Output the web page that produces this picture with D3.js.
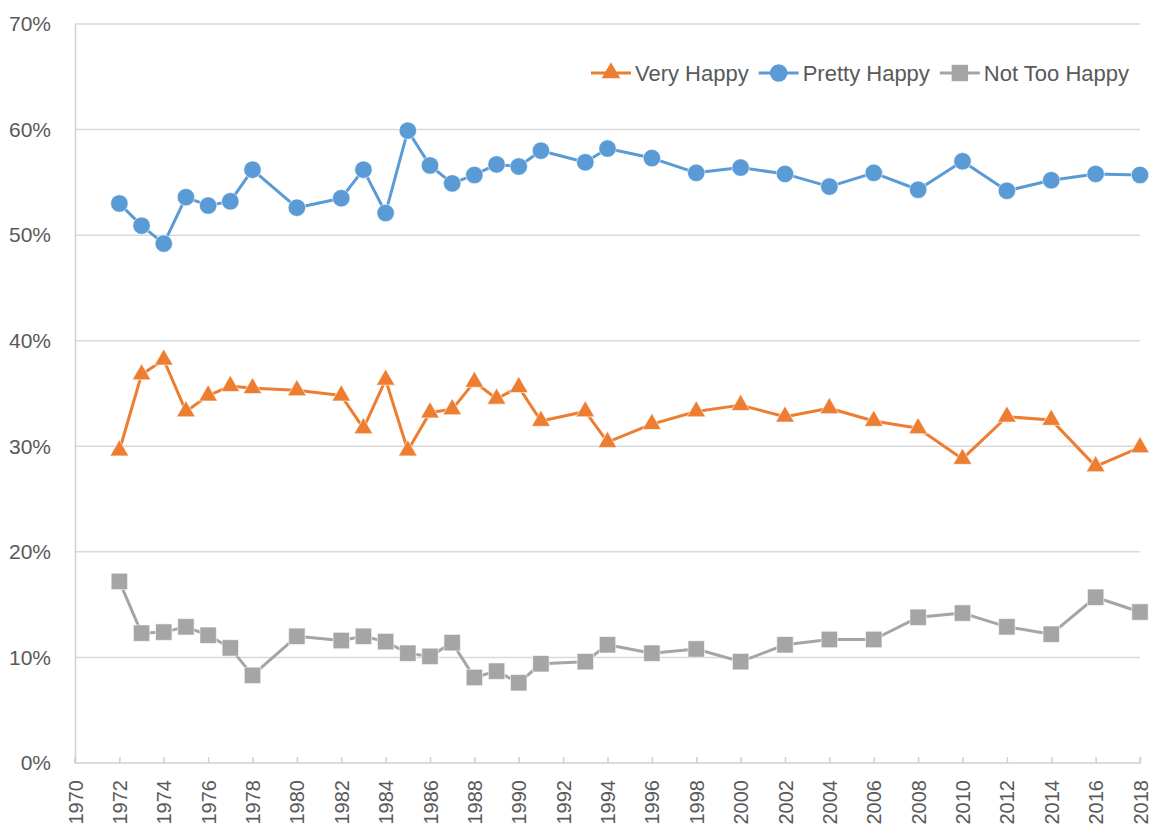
<!DOCTYPE html>
<html><head><meta charset="utf-8">
<script src="https://cdn.jsdelivr.net/npm/d3@7"></script>
<style>
body{margin:0;background:#fff;}
text{font-family:"Liberation Sans",Arial,sans-serif;fill:#595959;}
</style></head>
<body>
<svg id="chart" width="1157" height="826"></svg>
<script>
const years = [1972,1973,1974,1975,1976,1977,1978,1980,1982,1983,1984,1985,1986,1987,1988,1989,1990,1991,1993,1994,1996,1998,2000,2002,2004,2006,2008,2010,2012,2014,2016,2018];
const veryHappy = [29.6,36.8,38.2,33.3,34.8,35.7,35.5,35.3,34.8,31.7,36.3,29.6,33.2,33.5,36.1,34.5,35.6,32.4,33.3,30.4,32.1,33.3,33.9,32.8,33.6,32.4,31.7,28.8,32.8,32.5,28.1,29.9];
const prettyHappy = [53.0,50.9,49.2,53.6,52.8,53.2,56.2,52.6,53.5,56.2,52.1,59.9,56.6,54.9,55.7,56.7,56.5,58.0,56.9,58.2,57.3,55.9,56.4,55.8,54.6,55.9,54.3,57.0,54.2,55.2,55.8,55.7];
const notTooHappy = [17.2,12.3,12.4,12.9,12.1,10.9,8.3,12.0,11.6,12.0,11.5,10.4,10.1,11.4,8.1,8.7,7.6,9.4,9.6,11.2,10.4,10.8,9.6,11.2,11.7,11.7,13.8,14.2,12.9,12.2,15.7,14.3];
const seriesNames = ["Very Happy","Pretty Happy","Not Too Happy"];
const seriesColors = ["#ED7D31","#5B9BD5","#A5A5A5"];
const seriesSymbols = ["triangle","circle","square"];
const xTicks = d3.range(1970, 2019, 2);
const yTicks = [0,10,20,30,40,50,60,70];

const svg = d3.select("#chart");
const L = 75, R = 1140, T = 24, B = 763;
const x = d3.scaleLinear().domain([1970, 2018]).range([L, R]);
const y = d3.scaleLinear().domain([0, 70]).range([B, T]);

// gridlines
svg.append("g").selectAll("line").data(yTicks.filter(d=>d>0)).join("line")
  .attr("x1", L).attr("x2", R).attr("y1", d=>y(d)).attr("y2", d=>y(d))
  .attr("stroke", "#d9d9d9").attr("stroke-width", 1.5);

// y axis
const yAxis = svg.append("g").attr("transform", `translate(${L},0)`)
  .call(d3.axisLeft(y).tickValues(yTicks).tickSize(0).tickPadding(24).tickFormat(d=>d+"%"));
yAxis.select(".domain").attr("stroke","#d0d0d0").attr("stroke-width",1.5);
yAxis.selectAll("text").attr("font-size", 21).style("fill","#595959");

// x axis
const xAxis = svg.append("g").attr("transform", `translate(0,${B})`)
  .call(d3.axisTop(x).tickValues(xTicks).tickSize(6).tickFormat(d3.format("d")));
xAxis.select(".domain").attr("stroke","#d0d0d0").attr("stroke-width",1.5).attr("d", `M${L},-6V0H${R}V-6`);
xAxis.selectAll(".tick line").attr("stroke","#d0d0d0").attr("stroke-width",1.5);
xAxis.selectAll("text").attr("font-size", 20).style("fill","#595959")
  .attr("text-anchor","end").attr("transform","translate(0,17) rotate(-90)")
  .attr("x", 0).attr("y", 0).attr("dy","0.35em");

const data = [veryHappy, prettyHappy, notTooHappy];
const symType = {triangle: d3.symbolTriangle, circle: d3.symbolCircle, square: d3.symbolSquare};
const symSize = {triangle: 150, circle: 240, square: 270};

const line = d3.line().x((d,i)=>x(years[i])).y(d=>y(d));
data.forEach((vals, si) => {
  const g = svg.append("g");
  g.append("path").datum(vals).attr("d", line).attr("fill","none")
    .attr("stroke", seriesColors[si]).attr("stroke-width", 3).attr("stroke-linejoin","round");
  g.selectAll("path.m").data(vals).join("path").attr("class","m")
    .attr("transform", (d,i)=>`translate(${x(years[i])},${y(d)})`)
    .attr("d", d3.symbol().type(symType[seriesSymbols[si]]).size(symSize[seriesSymbols[si]]))
    .attr("fill", seriesColors[si]).attr("stroke","#fff").attr("stroke-width",0.6);
});

// legend (right-aligned)
const leg = svg.append("g");
const legY = 73;
const items = [];
seriesNames.forEach((name, si) => {
  const gi = leg.append("g");
  gi.append("line").attr("x1", 0).attr("x2", 40).attr("y1", legY).attr("y2", legY)
    .attr("stroke", seriesColors[si]).attr("stroke-width", 3);
  gi.append("path").attr("transform", `translate(20,${legY})`)
    .attr("d", d3.symbol().type(symType[seriesSymbols[si]]).size(symSize[seriesSymbols[si]]))
    .attr("fill", seriesColors[si]);
  const t = gi.append("text").attr("x", 44).attr("y", legY).attr("dy","0.35em")
    .attr("font-size", 22).text(name);
  items.push({g: gi, w: 44 + t.node().getComputedTextLength()});
});
const gap = 10;
const total = d3.sum(items, d=>d.w) + gap*(items.length-1);
let cx = 1129 - total;
items.forEach(it => { it.g.attr("transform", `translate(${cx},0)`); cx += it.w + gap; });
</script>
</body></html>
